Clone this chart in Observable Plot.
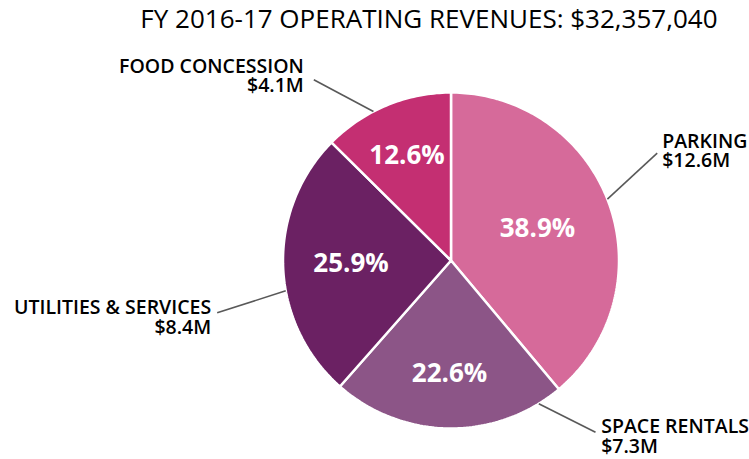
<!DOCTYPE html>
<html>
<head>
<meta charset="utf-8">
<script src="https://cdn.jsdelivr.net/npm/d3@7"></script>
<script src="https://cdn.jsdelivr.net/npm/@observablehq/plot@0.6"></script>
<style>
  html, body { margin: 0; padding: 0; background: #fff; }
  #chart svg { display: block; }
</style>
</head>
<body>
<div id="chart"></div>
<script>
// ---- data ----
const categories = ["PARKING", "SPACE RENTALS", "UTILITIES & SERVICES", "FOOD CONCESSION"];
const shares = [38.9, 22.6, 25.9, 12.6];            // percent of total
const amounts = [12.6, 7.3, 8.4, 4.1];              // $ millions
const totalRevenue = 32357040;
const titleText = "FY 2016-17 OPERATING REVENUES: " + d3.format("$,")(totalRevenue);

// ---- styles / layout ----
const colors = ["#D66A9A", "#8C5587", "#6B2163", "#C42F72"];
const W = 749, H = 459;
const cx = 450.5, cy = 260, R = 168;
// annotation placement (pixel offsets from pie centre)
const labelLayout = [
  {edge: 68.6,  end: [206.2, -107.3], text: [211.2, -93.3],  anchor: "start", pctR: 92},
  {edge: 148.5, end: [144.5, 171.7],  text: [150.2, 192.3],  anchor: "start", pctR: 113},
  {edge: 259.6, end: [-233.8, 52.3],  text: [-239.8, 73.3],  anchor: "end",   pctR: 100},
  {edge: 332.5, end: [-137.2, -180.7],text: [-147.2, -168.3],anchor: "end",   pctR: 114}
];

const rows = categories.map((name, i) => ({name, share: shares[i], amount: amounts[i], layout: labelLayout[i]}));
const arcs = d3.pie().sort(null).value(d => d.share)(rows);

// slice outlines (angles from the pie layout)
const slicePts = [];
arcs.forEach(a => {
  const name = a.data.name;
  slicePts.push({name, x: 0, y: 0});
  const n = Math.max(2, Math.ceil((a.endAngle - a.startAngle) / (Math.PI / 180)));
  for (let k = 0; k <= n; k++) {
    const t = a.startAngle + (a.endAngle - a.startAngle) * k / n;
    slicePts.push({name, x: R * Math.sin(t), y: -R * Math.cos(t)});
  }
});

const rad = deg => deg * Math.PI / 180;
const font = "'Open Sans', 'Noto Sans', sans-serif";
const labelText = d => d.name + "\n" + d3.format("$.1f")(d.amount) + "M";

const chart = Plot.plot({
  width: W, height: H,
  margin: 0,
  x: {domain: [-cx, W - cx], range: [0, W], axis: null},
  y: {domain: [-cy, H - cy], range: [0, H], axis: null},
  color: {domain: categories, range: colors},
  style: {fontFamily: font, background: "#fff", color: "#000"},
  marks: [
    Plot.line(slicePts, {x: "x", y: "y", z: "name", fill: "name", stroke: "white", strokeWidth: 2.5, strokeLinejoin: "miter", curve: "linear-closed"}),
    Plot.text(arcs, {
      x: a => a.data.layout.pctR * Math.sin((a.startAngle + a.endAngle) / 2),
      y: a => -a.data.layout.pctR * Math.cos((a.startAngle + a.endAngle) / 2),
      text: a => a.data.share.toFixed(1) + "%",
      fill: "white", fontSize: 26, fontWeight: "bold", fontFamily: font
    }),
    Plot.link(rows, {
      x1: d => R * Math.sin(rad(d.layout.edge)),
      y1: d => -R * Math.cos(rad(d.layout.edge)),
      x2: d => d.layout.end[0],
      y2: d => d.layout.end[1],
      stroke: "#595959", strokeWidth: 1.6
    }),
    Plot.text(rows.filter(d => d.layout.anchor === "start"), {
      x: d => d.layout.text[0], y: d => d.layout.text[1],
      text: labelText,
      textAnchor: "start", lineAnchor: "bottom", lineHeight: 1.0,
      fontSize: 19.5, fontWeight: 600, fill: "#000", fontFamily: font
    }),
    Plot.text(rows.filter(d => d.layout.anchor === "end"), {
      x: d => d.layout.text[0], y: d => d.layout.text[1],
      text: labelText,
      textAnchor: "end", lineAnchor: "bottom", lineHeight: 1.0,
      fontSize: 19.5, fontWeight: 600, fill: "#000", fontFamily: font
    }),
    Plot.text([titleText], {
      frameAnchor: "top-right", textAnchor: "end", lineAnchor: "bottom",
      dx: -32, dy: 27, fontSize: 26, fill: "#000", fontFamily: font
    })
  ]
});
document.getElementById("chart").appendChild(chart);
</script>
</body>
</html>
